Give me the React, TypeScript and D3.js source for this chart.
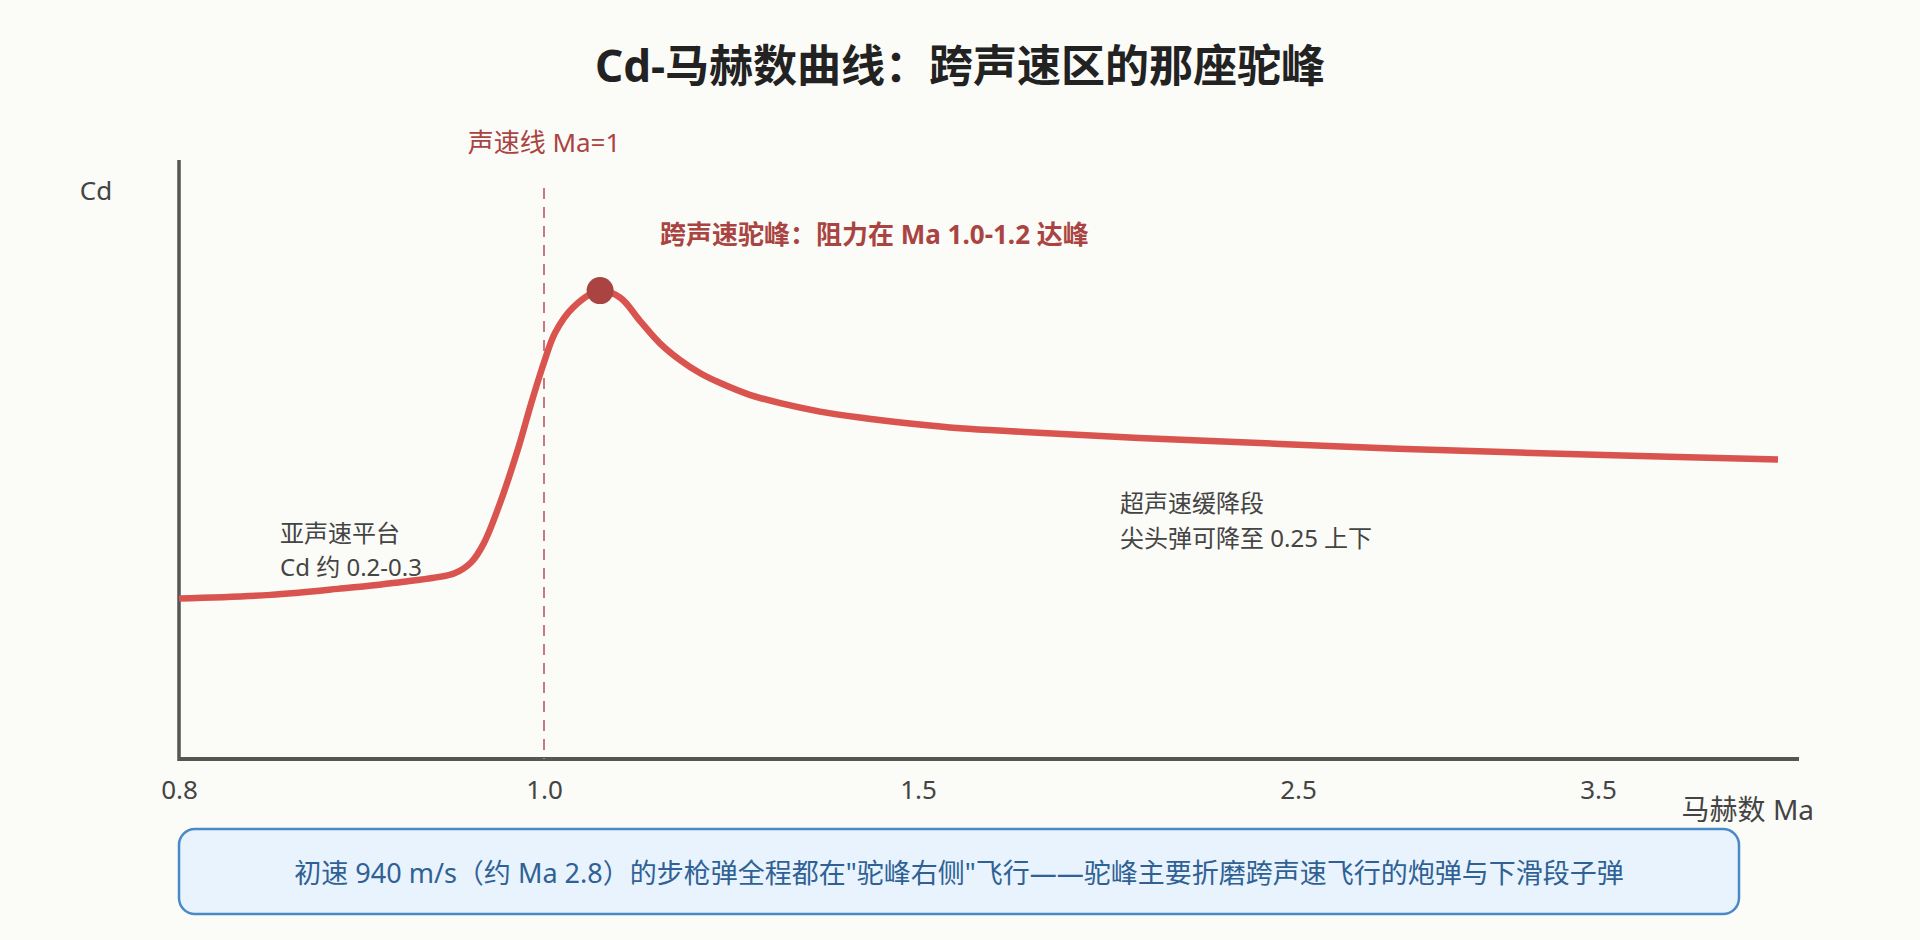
import { useEffect, useRef } from "react";
import * as d3 from "d3";

// Cd-Ma curve
const machValues = [
  0.8, 0.85, 0.887, 0.923, 0.951, 0.96, 0.967, 0.976, 0.986, 0.993, 1.0, 1.015,
  1.039, 1.075, 1.102, 1.128, 1.155, 1.182, 1.209, 1.235, 1.275, 1.316, 1.369,
  1.422, 1.489, 1.611, 1.779, 2.082, 2.453, 2.833, 3.49, 4.1,
];
const cdValues = [
  0.134, 0.137, 0.142, 0.148, 0.155, 0.164, 0.18, 0.214, 0.26, 0.297, 0.331,
  0.356, 0.377, 0.391, 0.385, 0.366, 0.347, 0.333, 0.322, 0.314, 0.304, 0.297,
  0.29, 0.285, 0.28, 0.276, 0.273, 0.268, 0.263, 0.259, 0.254, 0.25,
];
const tickValues = [0.8, 1.0, 1.5, 2.5, 3.5];
const scaleKnots = [0.8, 1.0, 1.5, 2.5, 3.5, 4.2];
const sonicMa = 1.0;

const titleText = "Cd-马赫数曲线：跨声速区的那座驼峰";
const sonicLabel = "声速线 Ma=1";
const peakLabel = "跨声速驼峰：阻力在 Ma 1.0-1.2 达峰";
const subsonicLines = ["亚声速平台", "Cd 约 0.2-0.3"];
const supersonicLines = ["超声速缓降段", "尖头弹可降至 0.25 上下"];
const noteText =
  "初速 940 m/s（约 Ma 2.8）的步枪弹全程都在\"驼峰右侧\"飞行——驼峰主要折磨跨声速飞行的炮弹与下滑段子弹";

const W = 1920;
const H = 940;
const FONT = '"Noto Sans", "Noto Sans CJK SC", sans-serif';
const left = 179;
const right = 1799;
const top = 160;
const bottom = 759;

export default function App() {
  const axisRef = useRef<SVGGElement>(null);

  const x = d3
    .scaleLinear()
    .domain(scaleKnots)
    .range([left, 544, 918, 1298, 1598, 1808]);
  const y = d3.scaleLinear().domain([0, 0.5]).range([bottom, top]);

  const data = machValues.map((m, i) => [m, cdValues[i]] as [number, number]);
  const line = d3
    .line<[number, number]>()
    .x((d) => x(d[0]))
    .y((d) => y(d[1]))
    .curve(d3.curveCatmullRom.alpha(0.5));
  const peakIdx = d3.maxIndex(cdValues);

  useEffect(() => {
    document.body.style.margin = "0";
    const g = d3.select(axisRef.current);
    g.selectAll("*").remove();
    g.call(
      d3
        .axisBottom(x)
        .tickValues(tickValues)
        .tickSize(0)
        .tickPadding(22)
        .tickFormat(d3.format(".1f"))
    );
    g.select(".domain").remove();
    g.attr("font-family", FONT).attr("font-size", 26);
    g.selectAll("text").attr("fill", "#444");
  }, []);

  return (
    <svg width={W} height={H} style={{ display: "block", background: "#fbfbf7" }}>
      <text
        x={W / 2}
        y={82}
        textAnchor="middle"
        fontFamily={FONT}
        fontSize={44}
        fontWeight="bold"
        fill="#222"
      >
        {titleText}
      </text>

      {/* axes */}
      <line x1={left} x2={left} y1={top} y2={bottom + 2} stroke="#555" strokeWidth={3.5} />
      <line x1={left} x2={right} y1={bottom} y2={bottom} stroke="#555" strokeWidth={4} />
      <g ref={axisRef} transform={`translate(0,${bottom})`} />
      <text x={96} y={200} textAnchor="middle" fontFamily={FONT} fontSize={26} fill="#444">
        Cd
      </text>
      <text x={1814} y={820} textAnchor="end" fontFamily={FONT} fontSize={28} fill="#444">
        马赫数 Ma
      </text>

      {/* sonic line */}
      <line
        x1={x(sonicMa)}
        x2={x(sonicMa)}
        y1={188}
        y2={bottom}
        stroke="#c97880"
        strokeWidth={2}
        strokeDasharray="11,8"
      />
      <text
        x={x(sonicMa)}
        y={152}
        textAnchor="middle"
        fontFamily={FONT}
        fontSize={26}
        fill="#a94442"
      >
        {sonicLabel}
      </text>

      {/* curve */}
      <path
        d={line(data) ?? ""}
        fill="none"
        stroke="#d9534f"
        strokeWidth={6.5}
        strokeLinejoin="round"
      />
      <circle
        cx={x(machValues[peakIdx])}
        cy={y(cdValues[peakIdx])}
        r={13.5}
        fill="#a94442"
      />
      <text x={660} y={244} fontFamily={FONT} fontSize={26} fontWeight="bold" fill="#a94442">
        {peakLabel}
      </text>

      {/* annotations */}
      {subsonicLines.map((t, i) => (
        <text key={t} x={280} y={542 + i * 34} fontFamily={FONT} fontSize={24} fill="#444">
          {t}
        </text>
      ))}
      {supersonicLines.map((t, i) => (
        <text key={t} x={1120} y={512 + i * 35} fontFamily={FONT} fontSize={24} fill="#444">
          {t}
        </text>
      ))}

      {/* note box */}
      <rect
        x={left}
        y={829}
        width={1739 - left}
        height={85}
        rx={16}
        fill="#e8f3fd"
        stroke="#4a89c8"
        strokeWidth={2.5}
      />
      <text
        x={(left + 1739) / 2}
        y={883}
        textAnchor="middle"
        fontFamily={FONT}
        fontSize={27}
        fill="#2f6194"
      >
        {noteText}
      </text>
    </svg>
  );
}
